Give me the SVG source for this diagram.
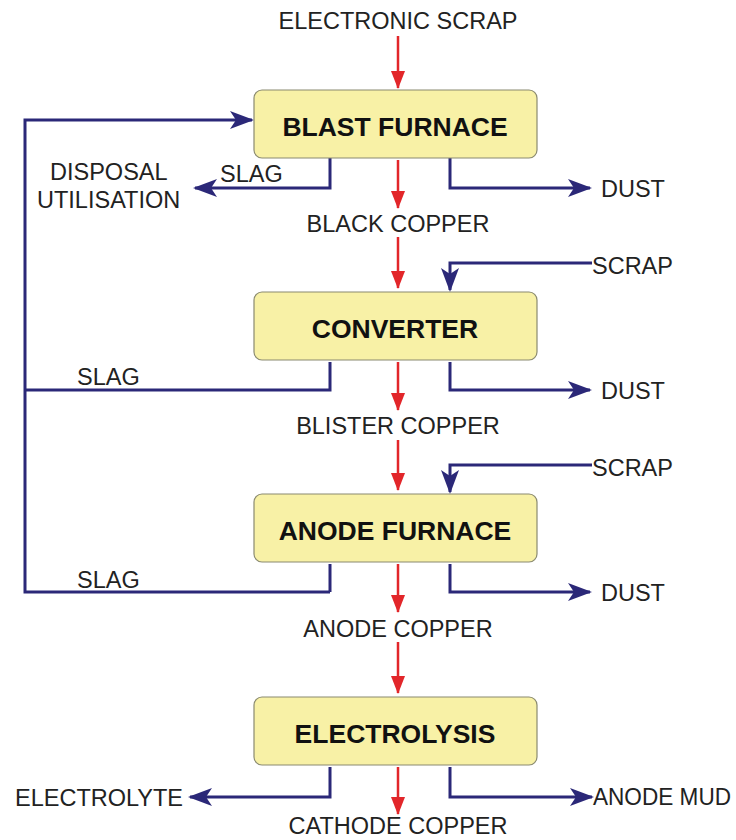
<svg xmlns="http://www.w3.org/2000/svg" width="736" height="840" viewBox="0 0 736 840">
<style>
.box{fill:#f8f1a6;stroke:#8a8a70;stroke-width:1.2}
.bt{font-family:"Liberation Sans",Arial,sans-serif;font-weight:bold;font-size:26.5px;fill:#111;text-anchor:middle}
.lb{font-family:"Liberation Sans",Arial,sans-serif;font-size:23.5px;fill:#222}
.mid{text-anchor:middle}
.blue{fill:none;stroke:#2b2878;stroke-width:3}
.red{fill:none;stroke:#e2262a;stroke-width:2.5}
</style>
<defs>
<marker id="ab" markerUnits="userSpaceOnUse" markerWidth="26" markerHeight="20" viewBox="0 0 26 20" refX="22" refY="10" orient="auto">
<path d="M0,1 L24,10 L0,19 L6,10 Z" fill="#2b2878"/>
</marker>
<marker id="ar" markerUnits="userSpaceOnUse" markerWidth="18" markerHeight="14" viewBox="0 0 18 14" refX="17" refY="7" orient="auto">
<path d="M0,0 L18,7 L0,14 Z" fill="#e2262a"/>
</marker>
</defs>
<g id="connectors">
<line class="red" x1="398" y1="36" x2="398" y2="88" marker-end="url(#ar)"/>
<line class="red" x1="398" y1="160" x2="398" y2="208" marker-end="url(#ar)"/>
<line class="red" x1="398" y1="237" x2="398" y2="288" marker-end="url(#ar)"/>
<line class="red" x1="398" y1="362" x2="398" y2="410" marker-end="url(#ar)"/>
<line class="red" x1="398" y1="440" x2="398" y2="490" marker-end="url(#ar)"/>
<line class="red" x1="398" y1="564" x2="398" y2="612" marker-end="url(#ar)"/>
<line class="red" x1="398" y1="642" x2="398" y2="693" marker-end="url(#ar)"/>
<line class="red" x1="398" y1="767" x2="398" y2="814" marker-end="url(#ar)"/>
<polyline class="blue" points="330,592 25,592 25,120 252,120" marker-end="url(#ab)"/>
<polyline class="blue" points="330,362 330,390 25,390"/>
<polyline class="blue" points="330,158 330,188 195,188" marker-end="url(#ab)"/>
<polyline class="blue" points="450,158 450,188 590,188" marker-end="url(#ab)"/>
<polyline class="blue" points="592,263 450,263 450,290" marker-end="url(#ab)"/>
<polyline class="blue" points="450,362 450,390 590,390" marker-end="url(#ab)"/>
<polyline class="blue" points="592,465 450,465 450,492" marker-end="url(#ab)"/>
<polyline class="blue" points="330,564 330,592"/>
<polyline class="blue" points="450,564 450,592 590,592" marker-end="url(#ab)"/>
<polyline class="blue" points="330,767 330,797 190,797" marker-end="url(#ab)"/>
<polyline class="blue" points="450,767 450,797 592,797" marker-end="url(#ab)"/>
</g>
<g id="blast-furnace"><rect class="box" x="254" y="90" width="283" height="68" rx="8"/><text class="bt" x="395" y="136">BLAST FURNACE</text></g>
<g id="converter"><rect class="box" x="254" y="292" width="283" height="68" rx="8"/><text class="bt" x="395" y="338">CONVERTER</text></g>
<g id="anode-furnace"><rect class="box" x="254" y="494" width="283" height="68" rx="8"/><text class="bt" x="395" y="540">ANODE FURNACE</text></g>
<g id="electrolysis"><rect class="box" x="254" y="697" width="283" height="68" rx="8"/><text class="bt" x="395" y="743">ELECTROLYSIS</text></g>
<g id="labels">
<text class="lb mid" x="398" y="29">ELECTRONIC SCRAP</text>
<text class="lb" x="220" y="182">SLAG</text>
<text class="lb" x="50" y="180">DISPOSAL</text>
<text class="lb" x="37" y="208">UTILISATION</text>
<text class="lb" x="601" y="197">DUST</text>
<text class="lb mid" x="398" y="232">BLACK COPPER</text>
<text class="lb" x="592" y="274">SCRAP</text>
<text class="lb" x="77" y="385">SLAG</text>
<text class="lb" x="601" y="399">DUST</text>
<text class="lb mid" x="398" y="434">BLISTER COPPER</text>
<text class="lb" x="592" y="476">SCRAP</text>
<text class="lb" x="77" y="588">SLAG</text>
<text class="lb" x="601" y="601">DUST</text>
<text class="lb mid" x="398" y="637">ANODE COPPER</text>
<text class="lb" x="15" y="806">ELECTROLYTE</text>
<text class="lb" x="593" y="805" textLength="138" lengthAdjust="spacingAndGlyphs">ANODE MUD</text>
<text class="lb mid" x="398" y="834">CATHODE COPPER</text>
</g>
</svg>
